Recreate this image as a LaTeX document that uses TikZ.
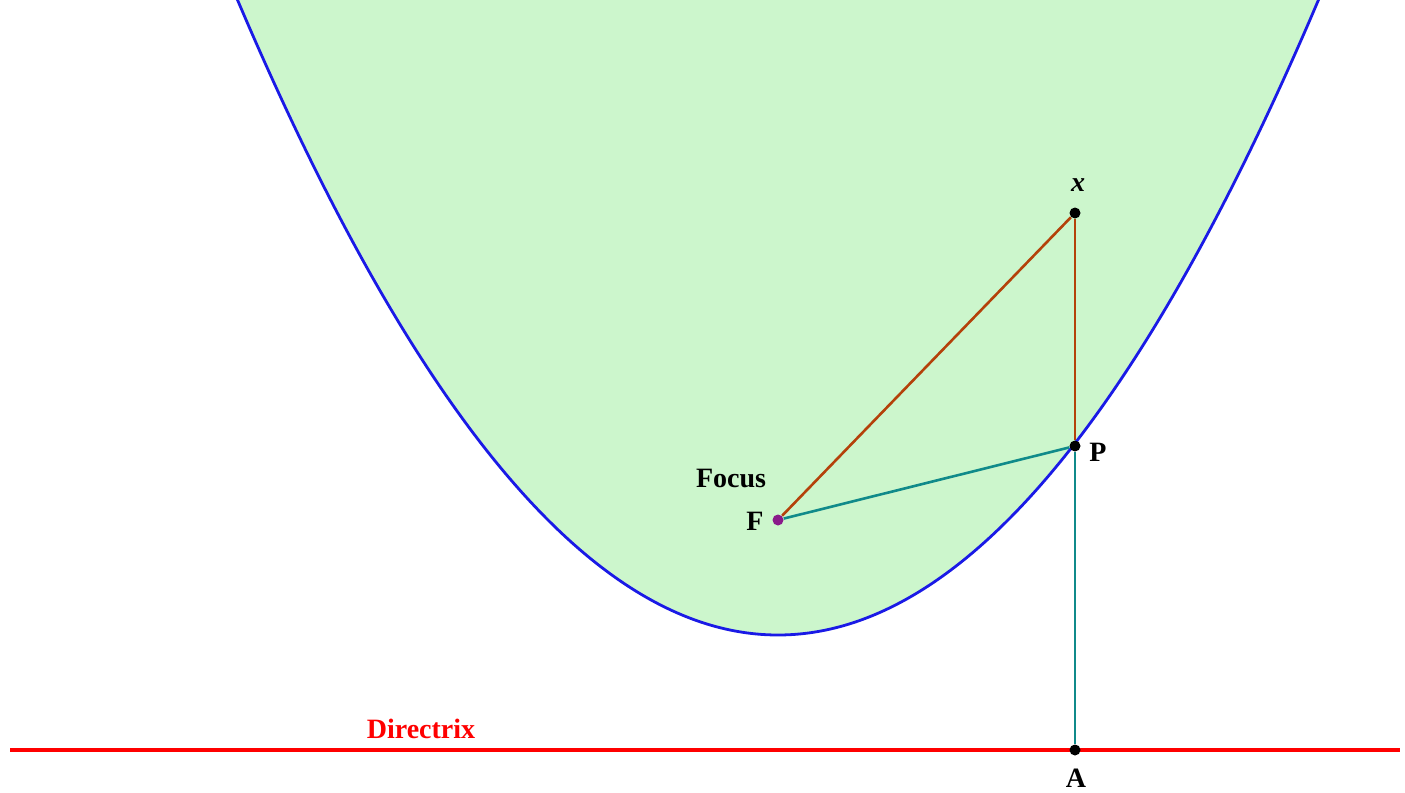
\documentclass[tikz,border=0pt]{standalone}
\usepackage{fontspec}
\setmainfont{Liberation Serif}
\usepackage{tikz}
\usetikzlibrary{positioning,calc}
\definecolor{CurveBlue}{HTML}{1A1AE6}
\definecolor{InnerGreen}{HTML}{CCF6CC}
\definecolor{SegBrown}{HTML}{B4410A}
\definecolor{SegTeal}{HTML}{108A8A}
\definecolor{FocusPurple}{HTML}{8A1A8A}
\tikzset{
  % Marked point
  pt/.style={
    circle, fill=#1, inner sep=0pt, minimum size=5.5pt
  },
  pt/.default=black,
  % Segment
  seg/.style={line width=1.3pt, color=#1},
  % Point label
  lbl/.style={font=\fontsize{14}{16}\selectfont\bfseries, inner sep=0pt}
}
\begin{document}
\begin{tikzpicture}[x=0.5pt, y=-0.5pt]

  \useasboundingbox (0,0) rectangle (1405,793);

  % Inside of the parabola and the curve itself
  \begin{scope}
    \clip (0,0) rectangle (1405,793);
    \fill[InnerGreen] plot[domain=-54.1:54.1, samples=120, smooth]
      ({778+10*\x}, {635-\x*\x/4.6}) -- cycle;
    \draw[CurveBlue, line width=1.4pt] plot[domain=-54.1:54.1, samples=120, smooth]
      ({778+10*\x}, {635-\x*\x/4.6});
  \end{scope}

  % Directrix
  \coordinate (dl) at (10,750);
  \coordinate (dr) at (1400,750);
  \draw[red, line width=1.6pt] (dl) -- (dr);

  % Points
  \node[pt=FocusPurple] (F) at (778,520) {};
  \node[pt] (X) at (1075,213) {};
  \node[pt] (P) at (1075,446) {};
  \node[pt] (A) at (1075,750) {};

  % Segments
  \draw[seg=SegBrown] (F) -- (X);
  \draw[seg=SegBrown] (X) -- (P);
  \draw[seg=SegTeal]  (F) -- (P);
  \draw[seg=SegTeal]  (P) -- (A);

  % Labels
  \node[lbl] (Flbl) at (755,521) {F};
  \node[lbl] (foc) at (731,478) {Focus};
  \node[lbl] (Plbl) at (1098,452) {P};
  \node[lbl] (Albl) at (1076,778) {A};
  \node[lbl] (Xlbl) at (1078,185) {\textit{x}};
  \node[lbl, text=red] (dir) at (421,729) {Directrix};

\end{tikzpicture}
\end{document}
